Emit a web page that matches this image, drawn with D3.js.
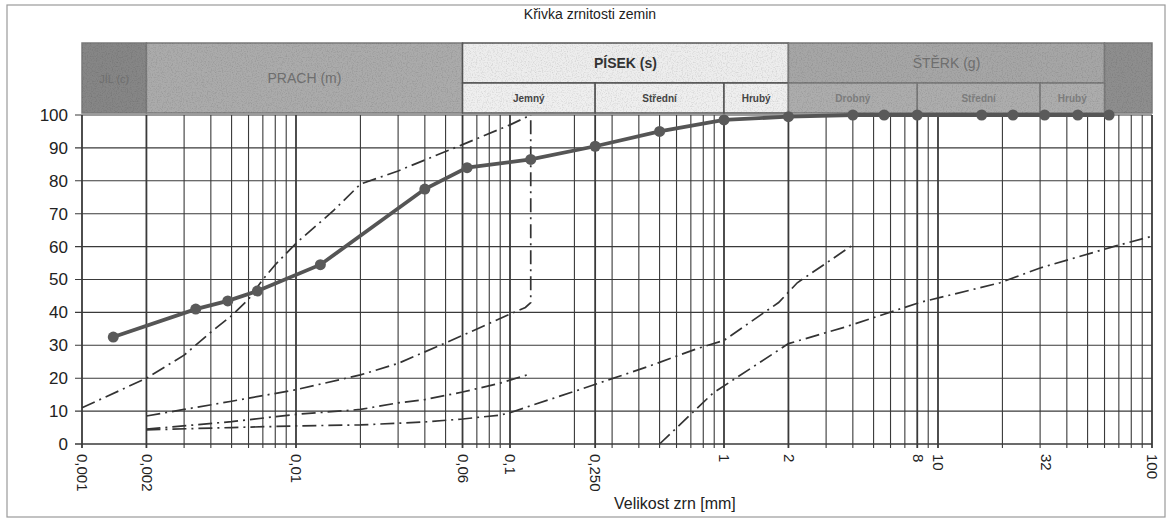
<!DOCTYPE html>
<html>
<head>
<meta charset="utf-8">
<script src="https://cdn.jsdelivr.net/npm/d3@7"></script>
<style>
  body { margin: 0; background: #fff; }
  svg { font-family: "Liberation Sans", Arial, sans-serif; }
  .grid line { stroke: #3a3a3a; }
  .axis path { display: none; }
  .axis line { stroke: #3a3a3a; }
  .axis text { fill: #222; }
</style>
</head>
<body>
<svg width="1170" height="522"></svg>
<script>
// main sample: sieve + hydrometer results
var sizes   = [0.0014, 0.0034, 0.0048, 0.0066, 0.013, 0.04, 0.063, 0.125, 0.25, 0.5, 1, 2, 4, 5.6, 8, 16, 22.4, 31.5, 45, 63];
var passing = [32.5, 41, 43.5, 46.5, 54.5, 77.5, 84, 86.5, 90.5, 95, 98.5, 99.5, 100, 100, 100, 100, 100, 100, 100, 100];

// envelope / reference curves (dash-dot)
var limitA = [[0.001, 11], [0.002, 20], [0.003, 27], [0.004, 34], [0.005, 39], [0.006, 44], [0.007, 50], [0.008, 54.5], [0.01, 61], [0.015, 71], [0.02, 79], [0.03, 83], [0.06, 91], [0.1, 97], [0.125, 100]];
var limitB = [[0.002, 8.5], [0.003, 10.5], [0.005, 13], [0.01, 16.5], [0.02, 21], [0.03, 24.5], [0.04, 28], [0.06, 33], [0.1, 39.5], [0.118, 41.5], [0.125, 43], [0.125, 100]];
var limitD = [[0.002, 4.5], [0.005, 6.8], [0.01, 9], [0.02, 10.5], [0.03, 12.5], [0.04, 13.5], [0.06, 15.8], [0.09, 18.5], [0.12, 21]];
var limitE = [[0.002, 4.3], [0.005, 5], [0.01, 5.5], [0.02, 5.8], [0.04, 6.7], [0.06, 7.6], [0.09, 8.8], [0.1, 9.5], [0.13, 12], [0.2, 16], [0.44, 23.5], [0.75, 29], [1, 31.5], [1.8, 43], [2.2, 49], [4, 60.5]];
var limitF = [[0.5, 0], [0.89, 15.5], [2, 30.5], [3.7, 35.6], [8.2, 43], [19.5, 49], [30, 53.5], [66, 60], [98, 63]];

var xTicks = [0.001, 0.002, 0.01, 0.06, 0.1, 0.25, 1, 2, 8, 10, 32, 100];
var xTickText = ["0,001", "0,002", "0,01", "0,06", "0,1", "0,250", "1", "2", "8", "10", "32", "100"];
var yTicks = [0, 10, 20, 30, 40, 50, 60, 70, 80, 90, 100];

// soil fraction header
var mainNames = ["JÍL (c)", "PRACH (m)", "PÍSEK (s)", "ŠTĚRK (g)", ""];
var mainEdges = [0.001, 0.002, 0.06, 2, 60, 100];
var mainFill  = ["#868686", "#ababab", "#ededed", "#a6a6a6", "#8e8e8e"];
var sandNames = ["Jemný", "Střední", "Hrubý"];
var sandEdges = [0.06, 0.25, 1, 2];
var gravelNames = ["Drobný", "Střední", "Hrubý"];
var gravelEdges = [2, 8, 30, 60];

var svg = d3.select("svg"),
    pLeft = 82, pRight = 1152, pTop = 115, pBottom = 444;

var x = d3.scaleLog().domain([0.001, 100]).range([pLeft, pRight]),
    y = d3.scaleLinear().domain([0, 100]).range([pBottom, pTop]);

// grainy look of the scanned header
var grain = svg.append("defs").append("filter")
    .attr("id", "grain")
    .attr("x", 0).attr("y", 0).attr("width", 1).attr("height", 1);
grain.append("feTurbulence")
    .attr("type", "fractalNoise").attr("baseFrequency", 0.8)
    .attr("numOctaves", 2).attr("seed", 4);
grain.append("feColorMatrix")
    .attr("type", "matrix")
    .attr("values", "0 0 0 0 0  0 0 0 0 0  0 0 0 0 0  0 0 0 -2.2 1.2");

// scan frame
svg.append("rect")
    .attr("x", 7).attr("y", 5).attr("width", 1158).attr("height", 512)
    .attr("fill", "none").attr("stroke", "#9a9a9a").attr("stroke-width", 1.2);

svg.append("text")
    .attr("x", 590).attr("y", 19)
    .attr("text-anchor", "middle")
    .attr("font-size", 14).attr("fill", "#222")
    .text("Křivka zrnitosti zemin");

// header bands
var hTop = 43, hMid = 83, hBot = 113;
var head = svg.append("g").attr("class", "header");

mainNames.forEach(function(name, i) {
  var x0 = x(mainEdges[i]), x1 = x(mainEdges[i + 1]);
  var split = (i == 2 || i == 3);
  head.append("rect")
      .attr("x", x0).attr("y", hTop)
      .attr("width", x1 - x0).attr("height", (split ? hMid : hBot) - hTop)
      .attr("fill", mainFill[i])
      .attr("stroke", i == 2 ? "#555" : "#7a7a7a").attr("stroke-width", 1.5);
});

function subRow(names, edges, fill, stroke) {
  names.forEach(function(name, i) {
    var x0 = x(edges[i]), x1 = x(edges[i + 1]);
    head.append("rect")
        .attr("x", x0).attr("y", hMid)
        .attr("width", x1 - x0).attr("height", hBot - hMid)
        .attr("fill", fill).attr("stroke", stroke).attr("stroke-width", 1.5);
  });
}
subRow(sandNames, sandEdges, "#efefef", "#555");
subRow(gravelNames, gravelEdges, "#adadad", "#7a7a7a");

head.append("rect")
    .attr("x", pLeft).attr("y", hTop)
    .attr("width", pRight - pLeft).attr("height", hBot - hTop)
    .attr("filter", "url(#grain)")
    .attr("opacity", 0.12);

mainNames.forEach(function(name, i) {
  var x0 = x(mainEdges[i]), x1 = x(mainEdges[i + 1]);
  var split = (i == 2 || i == 3);
  head.append("text")
      .attr("x", (x0 + x1) / 2)
      .attr("y", split ? (hTop + hMid) / 2 + 5 : (hTop + hBot) / 2 + 5)
      .attr("text-anchor", "middle")
      .attr("font-size", i == 0 ? 11 : 14)
      .attr("font-weight", i == 2 ? "bold" : "normal")
      .attr("fill", i == 2 ? "#333" : "#6e6e6e")
      .text(name);
});

function subText(names, edges, color) {
  names.forEach(function(name, i) {
    var x0 = x(edges[i]), x1 = x(edges[i + 1]);
    head.append("text")
        .attr("x", (x0 + x1) / 2).attr("y", hMid + 19)
        .attr("text-anchor", "middle")
        .attr("font-size", 10).attr("font-weight", "bold")
        .attr("fill", color)
        .text(name);
  });
}
subText(sandNames, sandEdges, "#444");
subText(gravelNames, gravelEdges, "#7c7c7c");

// grid
var gridX = [];
for (var e = -3; e < 2; e++) {
  for (var m = 1; m < 10; m++) gridX.push(m * Math.pow(10, e));
}
gridX.push(100, 0.25);

var grid = svg.append("g").attr("class", "grid");

grid.selectAll(".h")
    .data(yTicks)
  .enter().append("line")
    .attr("x1", pLeft - 7).attr("x2", pRight)
    .attr("y1", function(d) { return y(d); })
    .attr("y2", function(d) { return y(d); })
    .attr("stroke-width", function(d) { return d == 0 ? 1.6 : 1.1; });

grid.selectAll(".v")
    .data(gridX)
  .enter().append("line")
    .attr("x1", function(d) { return x(d); })
    .attr("x2", function(d) { return x(d); })
    .attr("y1", pTop).attr("y2", pBottom + 4)
    .attr("stroke-width", function(d) {
      return xTicks.some(function(t) { return Math.abs(t / d - 1) < 1e-6; }) ? 1.8 : 1.1;
    });

// axes (labels only; grid drawn above)
var yAxis = d3.axisLeft(y).tickValues(yTicks).tickSize(0).tickPadding(14);
svg.append("g")
    .attr("class", "axis")
    .attr("transform", "translate(" + pLeft + ",0)")
    .call(yAxis)
    .selectAll("text")
    .attr("font-size", 17);

var xAxis = d3.axisBottom(x)
    .tickValues(xTicks)
    .tickFormat(function(d, i) { return xTickText[i]; })
    .tickSize(0);

svg.append("g")
    .attr("class", "axis")
    .attr("transform", "translate(0," + pBottom + ")")
    .call(xAxis)
    .selectAll("text")
    .attr("font-size", 15)
    .attr("transform", "rotate(90)")
    .attr("x", 10).attr("y", 0).attr("dy", "0.35em")
    .style("text-anchor", "start");

svg.append("text")
    .attr("x", 614).attr("y", 509)
    .attr("font-size", 16).attr("fill", "#222")
    .text("Velikost zrn [mm]");

// curves
var line = d3.line()
    .x(function(d) { return x(d[0]); })
    .y(function(d) { return y(d[1]); });

[limitA, limitB, limitD, limitE, limitF].forEach(function(c) {
  svg.append("path")
      .datum(c)
      .attr("fill", "none")
      .attr("stroke", "#333")
      .attr("stroke-width", 1.7)
      .attr("stroke-dasharray", "14,5,2,5")
      .attr("d", line);
});

var sample = sizes.map(function(s, i) { return [s, passing[i]]; });

svg.append("path")
    .datum(sample)
    .attr("fill", "none")
    .attr("stroke", "#555")
    .attr("stroke-width", 3.8)
    .attr("d", line);

svg.selectAll(".dot")
    .data(sample)
  .enter().append("circle")
    .attr("cx", function(d) { return x(d[0]); })
    .attr("cy", function(d) { return y(d[1]); })
    .attr("r", 5.5)
    .attr("fill", "#5a5a5a");
</script>
</body>
</html>
